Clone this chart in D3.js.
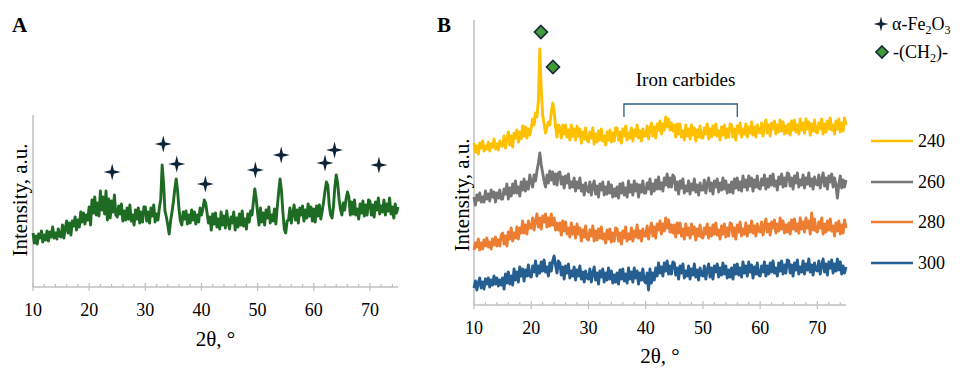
<!DOCTYPE html>
<html>
<head>
<meta charset="utf-8">
<script src="https://cdn.jsdelivr.net/npm/d3@7"></script>
<style>
  body { margin: 0; background: #fff; }
  svg text { font-family: "Liberation Serif", "Times New Roman", serif; fill: #000; }
</style>
</head>
<body>
<div id="chart"></div>
<script>
// 2θ grid of the digitised patterns (degrees, 0.25° step, 10..75)
const twoTheta = d3.range(261).map(i => 10 + i * 0.25);
const xTicks = [10, 20, 30, 40, 50, 60, 70];
const minorTicks = d3.range(10, 76, 2);

// panel A : catalyst pattern (a.u.)
const patternA = [
  54,44,51,43,53,49,56,45,52,47,56,46,55,50,60,49,54,48,58,51,
  50,62,49,59,66,54,64,52,66,61,70,57,67,60,75,65,74,63,72,67,
  80,62,87,74,90,72,84,71,96,77,90,73,96,67,88,69,86,75,92,72,
  70,81,73,83,66,76,67,79,68,82,66,72,62,77,68,79,64,75,65,80,
  80,66,75,64,79,71,82,65,73,67,79,88,122,104,76,70,62,53,66,75,
  85,98,108,96,78,66,62,75,68,76,63,72,64,77,67,75,63,72,65,79,
  72,78,87,84,74,64,70,57,73,63,74,60,68,58,75,62,71,59,76,64,
  58,70,64,75,57,69,60,73,62,76,61,68,58,73,65,76,72,85,98,88,
  74,62,79,65,74,62,77,69,80,64,72,66,78,63,80,95,108,96,75,58,
  54,66,67,79,64,74,82,67,77,64,79,72,81,66,77,69,83,71,80,66,
  78,65,81,71,82,68,76,85,96,105,102,82,72,69,80,100,112,104,88,78,
  72,84,77,88,95,90,72,85,73,87,72,78,68,83,74,86,71,82,72,87,
  86,72,82,70,85,77,89,73,81,75,87,72,83,76,89,73,80,69,83,74,
  80
];

// panel B : patterns after synthesis at 240-300 (stacked, a.u.)
const series = ["240", "260", "280", "300"];
const pattern240 = [
  162,153,159,151,162,157,164,154,159,156,163,154,161,158,166,156,161,155,164,159,
  159,169,157,166,173,160,169,158,172,167,175,163,173,166,179,169,178,167,176,170,
  177,186,180,192,188,205,256,215,190,181,172,178,183,180,192,202,194,178,168,180,
  178,167,180,171,180,168,175,165,180,169,176,165,179,169,176,162,173,166,177,165,
  163,173,167,177,161,171,163,174,165,176,164,169,160,173,165,175,163,172,164,177,
  177,165,173,162,176,169,179,165,172,167,177,164,175,169,180,167,174,164,176,169,
  169,179,166,176,182,169,178,167,181,175,184,171,181,175,188,178,186,175,182,174,
  180,168,181,171,181,168,174,165,180,169,176,166,180,170,177,164,175,168,179,167,
  167,177,171,181,166,176,168,179,170,181,169,174,165,178,170,180,167,176,168,181,
  180,168,176,165,179,172,182,168,176,171,181,168,178,172,183,170,178,168,180,173,
  172,182,169,178,185,172,180,169,182,176,184,171,180,173,185,174,183,171,179,172,
  181,170,184,175,185,173,180,171,186,175,182,172,186,176,183,170,181,174,185,173,
  172,182,176,186,171,181,173,184,176,187,175,180,171,184,176,186,173,182,174,187,
  180
];
const pattern260 = [
  108,100,110,105,112,103,108,103,114,106,111,104,115,108,113,103,112,107,115,106,
  106,116,111,121,106,117,109,121,112,124,112,118,109,123,115,126,114,123,116,130,
  123,118,130,124,134,142,152,140,132,124,118,130,122,134,125,133,121,131,120,132,
  133,121,128,117,129,122,131,117,123,118,127,114,123,117,127,114,120,110,122,115,
  113,123,110,119,124,111,119,108,121,115,123,110,118,111,123,112,120,108,116,109,
  118,107,121,112,122,110,117,108,124,113,120,110,124,114,121,108,120,113,124,112,
  112,122,116,126,111,121,114,125,116,128,116,122,114,127,120,131,118,127,118,130,
  128,115,123,111,124,117,126,112,119,114,124,111,121,115,126,113,120,110,122,115,
  115,125,112,121,127,114,122,111,124,118,126,113,122,115,127,116,124,112,120,113,
  123,112,126,117,127,115,123,114,129,118,125,115,129,119,127,114,125,118,129,117,
  116,126,120,130,116,126,118,129,120,131,119,124,115,128,121,131,118,127,119,132,
  131,119,127,116,129,122,132,118,125,120,130,117,127,121,132,119,126,116,128,121,
  120,130,117,126,132,119,127,116,129,123,131,118,127,120,107,121,129,117,125,118,
  125
];
const pattern280 = [
  55,62,58,66,55,62,56,65,59,67,58,63,56,66,60,68,59,65,59,70,
  72,61,69,59,73,66,77,64,72,67,78,66,77,72,84,72,80,71,84,77,
  77,87,75,84,91,78,87,76,89,83,91,78,87,79,91,80,87,75,82,75,
  82,70,84,74,83,71,77,68,82,71,78,67,81,71,77,64,75,68,79,66,
  65,75,69,79,64,74,65,76,67,78,66,71,62,75,66,76,63,72,64,77,
  76,64,72,61,74,67,78,64,71,66,77,64,74,68,80,67,74,64,76,69,
  69,79,66,76,82,69,78,67,81,75,84,71,81,74,87,77,85,73,80,72,
  80,68,82,72,82,69,76,66,81,70,77,67,81,71,78,65,76,69,80,68,
  67,77,71,81,67,77,69,80,71,82,70,75,66,79,71,81,68,77,69,82,
  81,69,77,66,80,73,83,69,76,71,82,69,79,73,84,72,79,69,81,74,
  73,83,70,79,86,73,81,70,83,77,85,72,81,74,87,76,84,72,80,73,
  82,71,85,76,86,74,81,72,87,76,83,73,87,77,84,71,92,75,86,74,
  73,83,77,87,71,81,73,84,75,86,74,79,69,82,74,84,71,80,72,85,
  77
];
const pattern300 = [
  17,24,15,22,27,17,23,16,26,21,27,18,25,20,29,21,27,19,25,20,
  27,16,31,22,33,21,29,20,36,25,33,23,38,29,36,24,35,29,40,29,
  28,39,33,44,29,39,32,43,34,45,33,38,29,42,34,44,49,40,32,44,
  42,30,38,26,39,32,41,27,34,29,38,25,35,29,39,26,33,23,34,27,
  26,36,23,32,38,25,32,21,34,28,36,23,32,25,37,26,34,22,30,23,
  32,21,35,26,36,24,31,22,37,26,33,23,37,27,34,21,32,25,36,24,
  22,32,15,36,22,32,25,37,29,42,32,38,29,42,34,44,31,39,31,43,
  42,30,37,26,39,32,41,27,34,29,39,26,36,30,41,28,35,25,37,30,
  29,39,26,35,41,28,37,26,39,33,41,28,37,30,42,31,39,27,35,28,
  37,26,40,31,41,30,37,28,43,32,39,29,43,33,40,27,38,31,42,30,
  29,39,33,43,29,39,31,42,33,44,32,37,29,42,34,44,31,40,32,45,
  44,32,40,29,42,35,45,31,38,33,44,31,41,35,46,33,40,30,42,35,
  34,44,31,40,46,33,41,30,43,37,45,32,41,34,46,35,43,31,39,32,
  38
];
const patternsB = [pattern240, pattern260, pattern280, pattern300];

// reflection markers [2θ, intensity]
const hematitePeaks = [[24.1,115],[33.2,143],[35.6,123],[40.7,103],[49.6,117],[54.2,132],[62.0,124],[63.7,137],[71.6,122]];
const ch2Peaks = [[21.7,273],[23.8,238]];
const carbideRange = [36.2, 56.0];

const W = 965, H = 368;
const svg = d3.select("#chart").append("svg")
  .attr("width", W).attr("height", H);

const axisColor = "#bfbfbf";
const colorA = "#1e6b23";
const colorsB = ["#ffc000", "#767676", "#ed7d31", "#255e91"];
const starColor = "#0d2338";
const traceWidth = 2.9;

// four-pointed star used for α-Fe2O3
function starPath(r, w) {
  return `M0,${-r}L${w},${-w}L${r},0L${w},${w}L0,${r}L${-w},${w}L${-r},0L${-w},${-w}Z`;
}
function diamondPath(r) {
  return `M0,${-r}L${r},0L0,${r}L${-r},0Z`;
}

function panel(p) {
  const x = d3.scaleLinear().domain([10, 75]).range([p.x0, p.x1]);
  const y = d3.scaleLinear().domain([0, p.ymax]).range([p.y0, p.y1]);
  const g = svg.append("g");

  // axes
  g.append("line").attr("x1", p.x0).attr("x2", p.x0).attr("y1", p.y1).attr("y2", p.y0)
    .attr("stroke", axisColor).attr("stroke-width", 1.5);
  g.append("line").attr("x1", p.x0).attr("x2", p.x1).attr("y1", p.y0).attr("y2", p.y0)
    .attr("stroke", axisColor).attr("stroke-width", 1.5);
  g.selectAll(".minor").data(minorTicks).enter().append("line")
    .attr("x1", d => x(d)).attr("x2", d => x(d))
    .attr("y1", d => xTicks.includes(d) ? p.y0 - 4 : p.y0)
    .attr("y2", d => xTicks.includes(d) ? p.y0 + 4 : p.y0 - 3)
    .attr("stroke", axisColor).attr("stroke-width", 1.2);
  g.selectAll(".tl").data(xTicks).enter().append("text")
    .attr("x", d => x(d)).attr("y", p.y0 + 29)
    .attr("text-anchor", "middle").style("font-size", "18px")
    .text(d => d);

  g.append("text").attr("x", (p.x0 + p.x1) / 2).attr("y", p.xt)
    .attr("text-anchor", "middle").style("font-size", "21px").text("2θ, °");
  g.append("text").attr("transform", `translate(${p.yt[0]},${p.yt[1]}) rotate(-90)`)
    .attr("text-anchor", "middle").style("font-size", "21px").text("Intensity, a.u.");
  g.append("text").attr("x", p.lx).attr("y", 32)
    .style("font-size", "21px").style("font-weight", "bold").text(p.label);

  const line = d3.line().x((d, i) => x(twoTheta[i])).y(d => y(d));
  return {g, x, y, line};
}

// ---- panel A
const A = panel({x0: 33, x1: 398, y0: 287, y1: 115, ymax: 172, xt: 346, yt: [27, 200], lx: 12, label: "A"});
A.g.append("path").datum(patternA).attr("d", A.line)
  .attr("fill", "none").attr("stroke", colorA).attr("stroke-width", traceWidth)
  .attr("stroke-linejoin", "round");
A.g.selectAll(".star").data(hematitePeaks).enter().append("path")
  .attr("transform", d => `translate(${A.x(d[0])},${A.y(d[1])})`)
  .attr("d", starPath(8.5, 1.7)).attr("fill", starColor);

// ---- panel B
const B = panel({x0: 474, x1: 846, y0: 305, y1: 20, ymax: 285, xt: 363, yt: [469, 195], lx: 437, label: "B"});
patternsB.slice().reverse().forEach((s, k) => {
  const i = patternsB.length - 1 - k;
  B.g.append("path").datum(s).attr("d", B.line)
    .attr("fill", "none").attr("stroke", colorsB[i]).attr("stroke-width", traceWidth)
    .attr("stroke-linejoin", "round");
});
B.g.selectAll(".dia").data(ch2Peaks).enter().append("path")
  .attr("transform", d => `translate(${B.x(d[0])},${B.y(d[1])})`)
  .attr("d", diamondPath(6.5)).attr("fill", "#3f9b35")
  .attr("stroke", "#16283a").attr("stroke-width", 1.6);

// iron carbides bracket
const bx0 = B.x(carbideRange[0]), bx1 = B.x(carbideRange[1]);
B.g.append("path")
  .attr("d", `M${bx0},117V104H${bx1}V117`)
  .attr("fill", "none").attr("stroke", "#2c6080").attr("stroke-width", 1.3);
B.g.append("text").attr("x", (bx0 + bx1) / 2 + 5).attr("y", 86)
  .attr("text-anchor", "middle").style("font-size", "19px").text("Iron carbides");

// ---- legend
const leg = svg.append("g");
leg.append("path").attr("transform", "translate(881,24)").attr("d", starPath(7.5, 1.5)).attr("fill", starColor);
const t1 = leg.append("text").attr("x", 892).attr("y", 30).style("font-size", "18px");
t1.append("tspan").text("α-Fe");
t1.append("tspan").attr("dy", 4).style("font-size", "12px").text("2");
t1.append("tspan").attr("dy", -4).text("O");
t1.append("tspan").attr("dy", 4).style("font-size", "12px").text("3");
leg.append("path").attr("transform", "translate(882,52)").attr("d", diamondPath(6))
  .attr("fill", "#3f9b35").attr("stroke", "#16283a").attr("stroke-width", 1.6);
const t2 = leg.append("text").attr("x", 893).attr("y", 58).style("font-size", "18px");
t2.append("tspan").text("-(CH");
t2.append("tspan").attr("dy", 4).style("font-size", "12px").text("2");
t2.append("tspan").attr("dy", -4).text(")-");

const legY = [141, 182, 222, 263];
series.forEach((s, i) => {
  leg.append("line").attr("x1", 871).attr("x2", 913).attr("y1", legY[i]).attr("y2", legY[i])
    .attr("stroke", colorsB[i]).attr("stroke-width", 2.6);
  leg.append("text").attr("x", 918).attr("y", legY[i] + 6).style("font-size", "18px").text(s);
});
</script>
</body>
</html>
